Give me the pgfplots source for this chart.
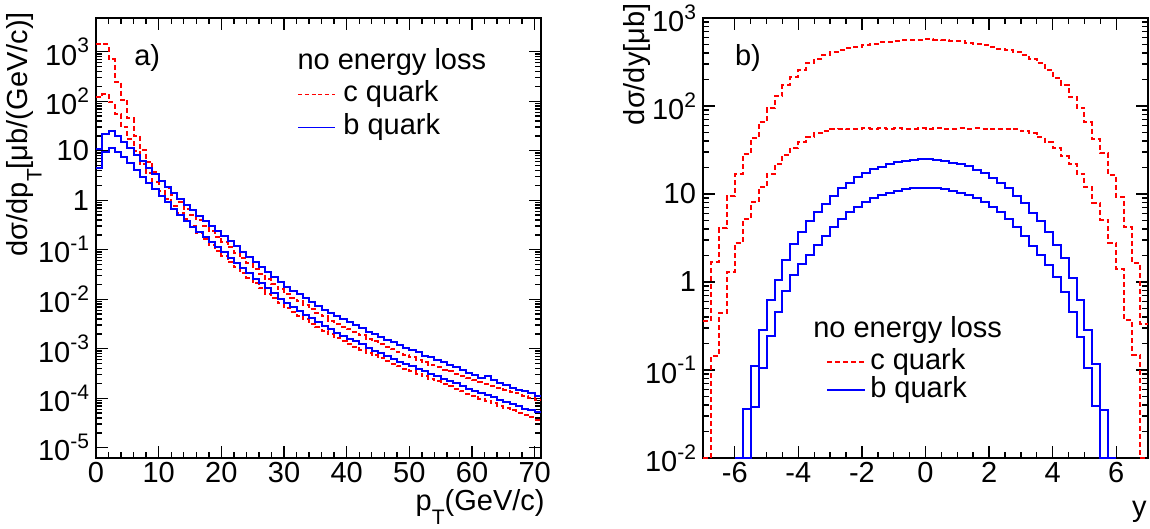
\documentclass[border=0pt]{standalone}
\usepackage{fontspec}
\setmainfont{Liberation Sans}
\usepackage{pgfplots}
\pgfplotsset{compat=1.18}

\definecolor{rootred}{RGB}{255,0,0}
\definecolor{rootblue}{RGB}{0,0,255}
\newcommand\rf{\fontsize{14.5bp}{17bp}\selectfont}
\newcommand\sups[1]{\raisebox{0.42em}{\fontsize{10.5bp}{11bp}\selectfont #1}}
\newcommand\subs[1]{\raisebox{-0.5em}{\fontsize{10.5bp}{11bp}\selectfont #1}}

\pgfplotsset{
  rootstyle/.style={
    scale only axis, width=222.5bp, height=220bp,
    axis line style={line width=0.8bp},
    every tick/.style={black, line width=0.7bp},
    major tick length=6bp, minor tick length=3bp,
    tick align=inside,
    tick label style={font=\rf},
    xticklabel style={inner sep=2bp},
    label style={font=\rf},
    /pgf/number format/assume math mode=true,
  },
  cq/.style={rootred, line width=1bp, dash pattern=on 2.5bp off 1.5bp, const plot},
  bq/.style={rootblue, line width=1bp, const plot},
}

\begin{document}
\begin{tikzpicture}
\useasboundingbox (-48bp,-35.5bp) rectangle (527bp,229bp);

% ---- a) pT spectra
\begin{axis}[ymode=log, rootstyle, at={(0,0)},
  xmin=0, xmax=71, ymin=6.2e-6, ymax=4.8e3,
  xtick={0,10,...,70}, minor x tick num=4,
  ytick={1e-5,1e-4,1e-3,1e-2,1e-1,1,10,100,1000},
  yticklabels={10\sups{-5},10\sups{-4},10\sups{-3},10\sups{-2},10\sups{-1},1,10,10\sups{2},10\sups{3}},
  xlabel={p\subs{T}(GeV/c)},
  xlabel style={at={(rel axis cs:1.009,-0.119)}, anchor=base east, inner sep=0pt},
  ylabel={dσ/dp\subs{T}[μb/(GeV/c)]},
  ylabel style={at={(rel axis cs:-0.162,1.014)}, anchor=east, inner sep=0pt},
]
% c quark, upper
\addplot[cq] coordinates {
(0,1450)(1,1400)(2,700)(3,250)(4,106)(5,45)(6,20)(7,10.5)(8,6.0)(9,3.8)
(10,2.5)(11,1.75)(12,1.25)(13,0.92)(14,0.68)(15,0.50)(16,0.39)(17,0.30)(18,0.235)(19,0.185)
(20,0.145)(21,0.112)(22,0.087)(23,0.067)(24,0.053)(25,0.041)(26,0.0325)(27,0.0252)(28,0.020)(29,0.0158)
(30,0.0130)(31,0.0108)(32,0.0091)(33,0.0076)(34,0.0063)(35,0.0052)(36,0.0045)(37,0.0037)(38,0.0032)(39,0.0028)
(40,0.00245)(41,0.00216)(42,0.00187)(43,0.00158)(44,0.0014)(45,0.00125)(46,0.00109)(47,9.7e-4)(48,8.4e-4)(49,7.6e-4)
(50,6.7e-4)(51,6.0e-4)(52,5.3e-4)(53,4.8e-4)(54,4.3e-4)(55,3.8e-4)(56,3.5e-4)(57,3.15e-4)(58,2.85e-4)(59,2.55e-4)
(60,2.35e-4)(61,2.12e-4)(62,1.95e-4)(63,1.78e-4)(64,1.63e-4)(65,1.5e-4)(66,1.35e-4)(67,1.25e-4)(68,1.12e-4)(69,1.02e-4)
(70,9.3e-5)(71,9.3e-5)};
% c quark, lower
\addplot[cq] coordinates {
(0,120)(1,140)(2,95)(3,55)(4,30)(5,17)(6,10)(7,5.5)(8,3.5)(9,2.3)
(10,1.55)(11,1.08)(12,0.78)(13,0.56)(14,0.41)(15,0.30)(16,0.215)(17,0.163)(18,0.123)(19,0.095)
(20,0.073)(21,0.056)(22,0.044)(23,0.034)(24,0.027)(25,0.021)(26,0.0165)(27,0.013)(28,0.0104)(29,0.0082)
(30,0.0066)(31,0.0055)(32,0.0046)(33,0.0039)(34,0.0032)(35,0.0027)(36,0.0023)(37,0.00195)(38,0.00167)(39,0.00145)
(40,0.00127)(41,0.0011)(42,9.6e-4)(43,8.3e-4)(44,7.3e-4)(45,6.5e-4)(46,5.6e-4)(47,5.0e-4)(48,4.4e-4)(49,3.9e-4)
(50,3.5e-4)(51,3.1e-4)(52,2.75e-4)(53,2.45e-4)(54,2.2e-4)(55,1.95e-4)(56,1.75e-4)(57,1.55e-4)(58,1.38e-4)(59,1.22e-4)
(60,1.1e-4)(61,9.8e-5)(62,8.8e-5)(63,7.9e-5)(64,7.1e-5)(65,6.4e-5)(66,5.7e-5)(67,5.1e-5)(68,4.6e-5)(69,4.1e-5)
(70,3.7e-5)(71,3.7e-5)};
% b quark, upper
\addplot[bq] coordinates {
(0,11)(1,22)(2,25)(3,20)(4,15.3)(5,11.3)(6,8.3)(7,6.1)(8,4.5)(9,3.4)
(10,2.5)(11,1.86)(12,1.41)(13,1.07)(14,0.81)(15,0.63)(16,0.49)(17,0.38)(18,0.30)(19,0.24)
(20,0.19)(21,0.148)(22,0.117)(23,0.091)(24,0.072)(25,0.056)(26,0.045)(27,0.035)(28,0.028)(29,0.022)
(30,0.018)(31,0.015)(32,0.0126)(33,0.0105)(34,0.0087)(35,0.0072)(36,0.0062)(37,0.0052)(38,0.0045)(39,0.0039)
(40,0.0034)(41,0.0030)(42,0.0026)(43,0.0022)(44,0.00195)(45,0.00174)(46,0.00151)(47,0.00135)(48,0.00117)(49,0.00105)
(50,9.3e-4)(51,8.4e-4)(52,7.2e-4)(53,6.7e-4)(54,5.9e-4)(55,5.3e-4)(56,4.6e-4)(57,4.2e-4)(58,3.8e-4)(59,3.3e-4)
(60,3.0e-4)(61,2.6e-4)(62,2.8e-4)(63,2.3e-4)(64,2.0e-4)(65,1.85e-4)(66,1.6e-4)(67,1.5e-4)(68,1.38e-4)(69,1.25e-4)
(70,1.1e-4)(71,1.1e-4)};
% b quark, lower
\addplot[bq] coordinates {
(0,4.4)(1,9.5)(2,11.2)(3,9.5)(4,7.4)(5,5.6)(6,4.1)(7,3.0)(8,2.2)(9,1.65)
(10,1.22)(11,0.9)(12,0.67)(13,0.5)(14,0.38)(15,0.29)(16,0.23)(17,0.178)(18,0.14)(19,0.112)
(20,0.088)(21,0.069)(22,0.055)(23,0.043)(24,0.034)(25,0.026)(26,0.021)(27,0.0165)(28,0.0132)(29,0.0103)
(30,0.0084)(31,0.0070)(32,0.0059)(33,0.0049)(34,0.0041)(35,0.0034)(36,0.0029)(37,0.00245)(38,0.0021)(39,0.00183)
(40,0.0016)(41,0.0014)(42,0.00122)(43,0.00104)(44,9.2e-4)(45,8.2e-4)(46,7.1e-4)(47,6.3e-4)(48,5.5e-4)(49,4.9e-4)
(50,4.4e-4)(51,3.9e-4)(52,3.5e-4)(53,3.1e-4)(54,2.8e-4)(55,2.45e-4)(56,2.2e-4)(57,2.0e-4)(58,1.75e-4)(59,1.55e-4)
(60,1.4e-4)(61,1.27e-4)(62,1.15e-4)(63,1.04e-4)(64,9.4e-5)(65,8.5e-5)(66,7.6e-5)(67,7.0e-5)(68,6.2e-5)(69,5.7e-5)
(70,5.2e-5)(71,5.2e-5)};

\node[font=\rf] at (rel axis cs:0.115,0.909) {a)};
\node[font=\rf, anchor=west, inner sep=0pt] at (rel axis cs:0.452,0.9) {no energy loss};
\draw[rootred, line width=0.6bp, dash pattern=on 2bp off 1.4bp] (rel axis cs:0.454,0.827) -- (rel axis cs:0.537,0.827);
\node[font=\rf, anchor=west, inner sep=0pt] at (rel axis cs:0.555,0.827) {c quark};
\draw[rootblue, line width=0.6bp] (rel axis cs:0.454,0.752) -- (rel axis cs:0.537,0.752);
\node[font=\rf, anchor=west, inner sep=0pt] at (rel axis cs:0.555,0.752) {b quark};
\end{axis}

% ---- b) rapidity distributions
\begin{axis}[ymode=log, rootstyle, at={(303.5bp,0)},
  xmin=-7, xmax=7, ymin=0.01, ymax=1000,
  xtick={-6,-4,...,6}, minor x tick num=3,
  ytick={1e-2,1e-1,1,10,100,1000},
  yticklabels={10\sups{-2},10\sups{-1},1,10,10\sups{2},10\sups{3}},
  xlabel={y},
  xlabel style={at={(rel axis cs:0.998,-0.132)}, anchor=base east, inner sep=0pt},
  ylabel={dσ/dy[μb]},
  ylabel style={at={(rel axis cs:-0.148,1.034)}, anchor=east, inner sep=0pt},
]
% c quark, upper
\addplot[cq] coordinates {
(-7,0.36)(-6.75,1.7)(-6.5,4.1)(-6.25,9.5)(-6,17)(-5.75,28.5)(-5.5,43)(-5.25,66)(-5,95)(-4.75,129)
(-4.5,172)(-4.25,212)(-4,257)(-3.75,308)(-3.5,341)(-3.25,380)(-3,414)(-2.75,433)(-2.5,452)(-2.25,472)
(-2,494)(-1.75,510)(-1.5,528)(-1.25,540)(-1,550)(-0.75,558)(-0.5,565)(-0.25,568)
(0,570)(0.25,566)(0.5,557)(0.75,551)(1,542)(1.25,526)(1.5,512)(1.75,492)(2,474)(2.25,450)
(2.5,431)(2.75,412)(3,378)(3.25,343)(3.5,305)(3.75,259)(4,210)(4.25,173)(4.5,127)(4.75,96)
(5,65)(5.25,42)(5.5,29)(5.75,16.5)(6,9.3)(6.25,4.2)(6.5,1.65)(6.75,0.33)(7,0.33)};
% c quark, lower
\addplot[cq] coordinates {
(-7,0.01)(-6.75,0.145)(-6.5,0.44)(-6.25,1.3)(-6,2.8)(-5.75,5.2)(-5.5,8.1)(-5.25,12)(-5,16.9)(-4.75,22)
(-4.5,27.6)(-4.25,33)(-4,39)(-3.75,44.6)(-3.5,49)(-3.25,52)(-3,55)(-2.75,55.5)(-2.5,55)(-2.25,55.5)
(-2,56)(-1.75,55.5)(-1.5,56)(-1.25,55.5)(-1,56)(-0.75,55)(-0.5,55.5)(-0.25,56)
(0,55.5)(0.25,56)(0.5,55)(0.75,55.5)(1,56)(1.25,55.5)(1.5,56)(1.75,55.5)(2,55)(2.25,55.5)
(2.5,55)(2.75,54.5)(3,51.5)(3.25,49)(3.5,44)(3.75,39)(4,33.5)(4.25,27)(4.5,22)(4.75,17)
(5,12)(5.25,8)(5.5,5.1)(5.75,2.8)(6,1.4)(6.25,0.37)(6.5,0.15)(6.75,0.01)(7,0.01)};
% b quark, upper
\addplot[bq] coordinates {
(-6,0.01)(-5.75,0.036)(-5.5,0.11)(-5.25,0.285)(-5,0.62)(-4.75,1.06)(-4.5,1.8)(-4.25,2.7)(-4,3.7)(-3.75,4.9)
(-3.5,6.2)(-3.25,7.7)(-3,9.6)(-2.75,11.6)(-2.5,13.5)(-2.25,15.4)(-2,17.2)(-1.75,19.0)(-1.5,20.5)(-1.25,21.8)
(-1,22.9)(-0.75,23.8)(-0.5,24.5)(-0.25,24.8)
(0,24.9)(0.25,24.4)(0.5,23.9)(0.75,22.8)(1,21.7)(1.25,20.6)(1.5,18.9)(1.75,17.3)(2,15.3)(2.25,13.4)
(2.5,11.7)(2.75,9.5)(3,7.8)(3.25,6.1)(3.5,4.9)(3.75,3.7)(4,2.6)(4.25,1.85)(4.5,1.1)(4.75,0.62)
(5,0.285)(5.25,0.117)(5.5,0.035)(5.75,0.01)(6,0.01)};
% b quark, lower
\addplot[bq] coordinates {
(-5.75,0.01)(-5.5,0.038)(-5.25,0.105)(-5,0.243)(-4.75,0.46)(-4.5,0.79)(-4.25,1.2)(-4,1.6)(-3.75,2.05)(-3.5,2.6)
(-3.25,3.3)(-3,4.2)(-2.75,5.2)(-2.5,6.2)(-2.25,7.2)(-2,8.1)(-1.75,9.0)(-1.5,9.7)(-1.25,10.4)(-1,10.9)
(-0.75,11.3)(-0.5,11.6)(-0.25,11.8)
(0,11.8)(0.25,11.6)(0.5,11.3)(0.75,10.9)(1,10.4)(1.25,9.8)(1.5,9.0)(1.75,8.2)(2,7.2)(2.25,6.3)
(2.5,5.2)(2.75,4.2)(3,3.3)(3.25,2.55)(3.5,2.05)(3.75,1.58)(4,1.15)(4.25,0.76)(4.5,0.46)(4.75,0.24)
(5,0.105)(5.25,0.039)(5.5,0.01)(5.75,0.01)};

\node[font=\rf] at (rel axis cs:0.101,0.909) {b)};
\node[font=\rf, anchor=west, inner sep=0pt] at (rel axis cs:0.247,0.291) {no energy loss};
\draw[rootred, line width=1bp, dash pattern=on 2.5bp off 1.5bp] (rel axis cs:0.279,0.218) -- (rel axis cs:0.364,0.218);
\node[font=\rf, anchor=west, inner sep=0pt] at (rel axis cs:0.375,0.218) {c quark};
\draw[rootblue, line width=1bp] (rel axis cs:0.279,0.155) -- (rel axis cs:0.364,0.155);
\node[font=\rf, anchor=west, inner sep=0pt] at (rel axis cs:0.375,0.155) {b quark};
\end{axis}
\end{tikzpicture}
\end{document}
